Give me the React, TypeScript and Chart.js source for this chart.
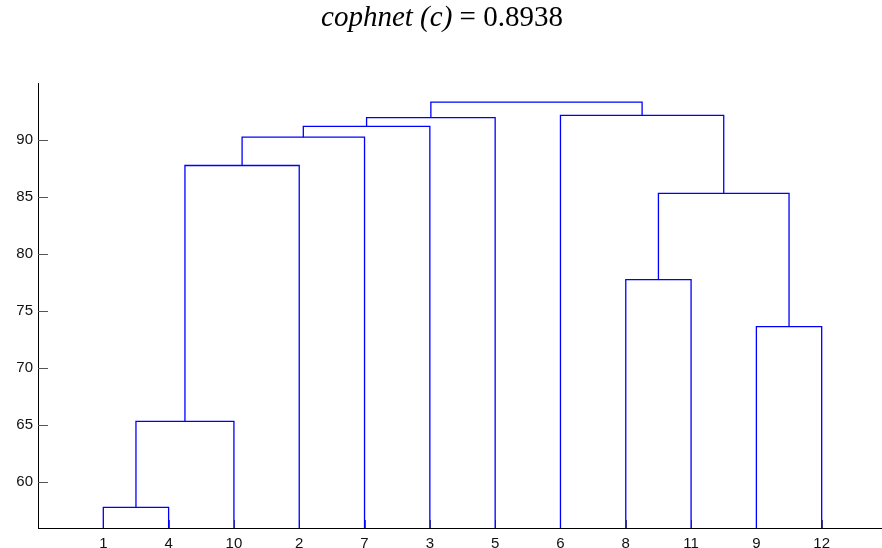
import React, { useEffect, useRef } from "react";
import { Chart, registerables } from "chart.js";

Chart.register(...registerables);

// Leaf order along the x axis (observation labels)
const leafLabels = ["1", "4", "10", "2", "7", "3", "5", "6", "8", "11", "9", "12"];
// Linkage (MATLAB style): cluster ids 1..12 are observations, 13+ are merges
const linkLeft = [1, 13, 14, 15, 16, 17, 9, 8, 20, 6, 18];
const linkRight = [4, 10, 2, 7, 3, 5, 12, 11, 19, 21, 22];
const linkHeight = [57.8, 65.35, 87.77, 90.25, 91.2, 91.96, 73.65, 77.77, 85.32, 92.16, 93.33];
const yTickValues = [60, 65, 70, 75, 80, 85, 90];
const titleItalic = "cophnet (c)";
const titleRest = " = 0.8938";

const Y_MIN = 56;
const Y_MAX = 95;

function buildLinks() {
  const nObs = leafLabels.length;
  const xPos: Record<number, number> = {};
  const hPos: Record<number, number> = {};
  leafLabels.forEach((lab, i) => {
    xPos[Number(lab)] = i + 1;
    hPos[Number(lab)] = 0;
  });
  const segs: { x: number; y: number }[][] = [];
  linkLeft.forEach((l, k) => {
    const r = linkRight[k];
    const h = linkHeight[k];
    const id = nObs + 1 + k;
    const xl = xPos[l];
    const xr = xPos[r];
    segs.push([
      { x: xl, y: hPos[l] },
      { x: xl, y: h },
      { x: xr, y: h },
      { x: xr, y: hPos[r] },
    ]);
    xPos[id] = (xl + xr) / 2;
    hPos[id] = h;
  });
  return segs;
}

const tickMarks = {
  id: "tickMarks",
  beforeDatasetsDraw(chart: any) {
    const { ctx, chartArea, scales } = chart;
    ctx.save();
    ctx.strokeStyle = "#555555";
    ctx.lineWidth = 1;
    ctx.beginPath();
    yTickValues.forEach((v) => {
      const y = Math.round(scales.y.getPixelForValue(v)) + 0.5;
      ctx.moveTo(chartArea.left, y);
      ctx.lineTo(chartArea.left + 10, y);
    });
    leafLabels.forEach((_, i) => {
      const x = Math.round(scales.x.getPixelForValue(i + 1)) + 0.5;
      ctx.moveTo(x, chartArea.bottom);
      ctx.lineTo(x, chartArea.bottom - 8);
    });
    ctx.stroke();
    ctx.restore();
  },
};

export default function App() {
  const ref = useRef<HTMLCanvasElement | null>(null);
  useEffect(() => {
    if (!ref.current) return;
    const segs = buildLinks();
    const chart = new Chart(ref.current, {
      type: "line",
      data: {
        datasets: segs.map((s) => ({
          data: s,
          borderColor: "#0000ff",
          borderWidth: 1.3,
          pointRadius: 0,
          fill: false,
          tension: 0,
        })),
      },
      options: {
        responsive: false,
        animation: false,
        layout: { padding: { top: 83, right: 13, left: 0, bottom: 0 } },
        plugins: { legend: { display: false }, tooltip: { enabled: false }, title: { display: false } },
        scales: {
          x: {
            type: "linear",
            min: 0,
            max: 13,
            afterBuildTicks: (scale: any) => {
              scale.ticks = leafLabels.map((_, i) => ({ value: i + 1 }));
            },
            afterFit: (scale: any) => {
              scale.height = 20;
            },
            ticks: {
              autoSkip: false,
              maxRotation: 0,
              padding: 7,
              color: "#111",
              font: { family: "'Liberation Sans', Arial, sans-serif", size: 15 },
              callback: (v: any) => leafLabels[Number(v) - 1] ?? "",
            },
            grid: { display: true, drawOnChartArea: false, drawTicks: false },
            border: { display: true, color: "#000", width: 1 },
          },
          y: {
            min: Y_MIN,
            max: Y_MAX,
            afterBuildTicks: (scale: any) => {
              scale.ticks = yTickValues.map((v) => ({ value: v }));
            },
            afterFit: (scale: any) => {
              scale.width = 38;
            },
            ticks: {
              padding: 5,
              color: "#111",
              font: { family: "'Liberation Sans', Arial, sans-serif", size: 15 },
            },
            grid: { display: true, drawOnChartArea: false, drawTicks: false },
            border: { display: true, color: "#000", width: 1 },
          },
        },
      },
      plugins: [tickMarks],
    });
    return () => chart.destroy();
  }, []);

  return (
    <div
      style={{
        position: "fixed",
        left: 0,
        top: 0,
        width: 882,
        height: 548,
        overflow: "hidden",
        background: "#fff",
      }}
    >
      <div
        style={{
          position: "absolute",
          left: 0,
          top: 0,
          width: 884,
          textAlign: "center",
          fontFamily: "'Liberation Serif', 'DejaVu Serif', serif",
          fontSize: 29,
          lineHeight: "32px",
          color: "#000",
        }}
      >
        <span style={{ fontStyle: "italic" }}>{titleItalic}</span>
        <span>{titleRest}</span>
      </div>
      <canvas ref={ref} width={900} height={548} style={{ display: "block", width: 900, height: 548 }} />
    </div>
  );
}
